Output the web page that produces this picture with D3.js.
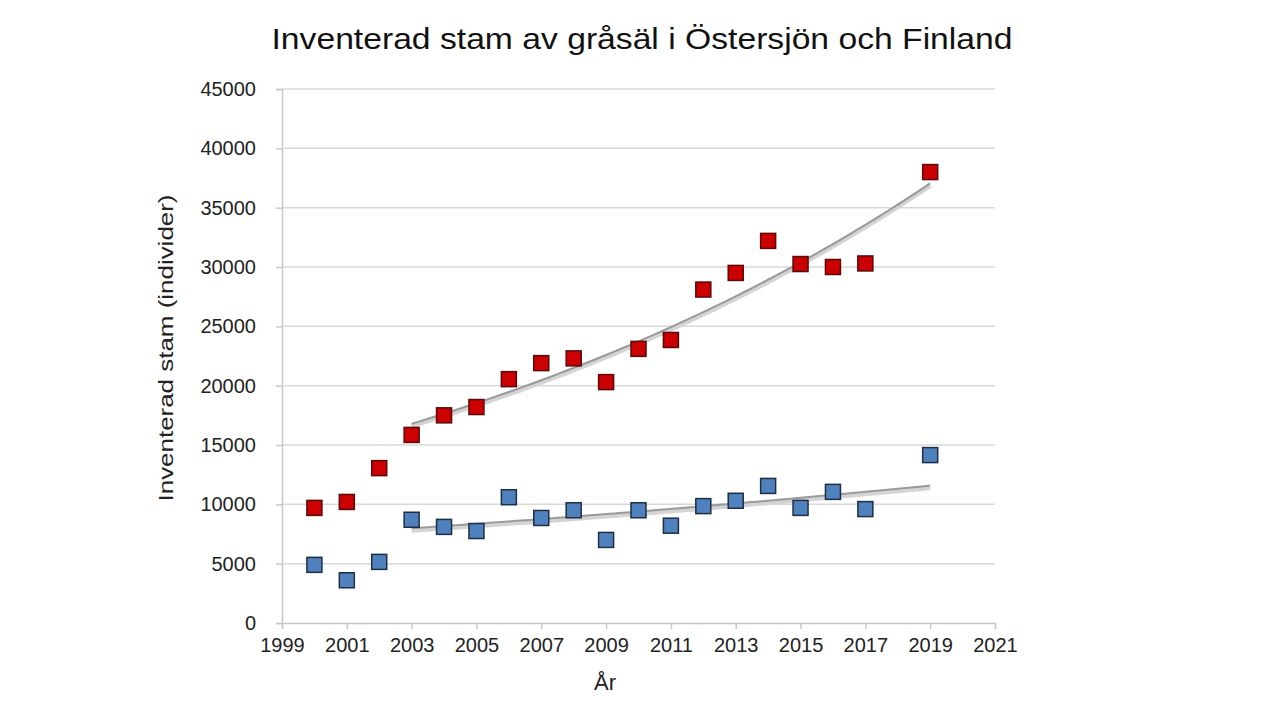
<!DOCTYPE html>
<html><head><meta charset="utf-8">
<script src="https://cdn.jsdelivr.net/npm/d3@7"></script>
<style>body{margin:0;background:#fff;}svg{display:block;font-family:"Liberation Sans",Arial,sans-serif;}</style>
</head><body>
<svg id="c" width="1280" height="720"></svg>
<script>
const years = [2000,2001,2002,2003,2004,2005,2006,2007,2008,2009,2010,2011,2012,2013,2014,2015,2016,2017,2019];
const totalValues = [9700,10200,13050,15850,17500,18200,20550,21900,22300,20300,23100,23850,28100,29500,32200,30250,30000,30300,38000];
const finlandValues = [4900,3600,5150,8700,8100,7750,10600,8850,9500,7000,9500,8200,9850,10300,11550,9700,11050,9600,14150];
const xTicks = [1999,2001,2003,2005,2007,2009,2011,2013,2015,2017,2019,2021];
const yTicks = [0,5000,10000,15000,20000,25000,30000,35000,40000,45000];
const trendStart = 2003;
const title = "Inventerad stam av gråsäl i Östersjön och Finland";
const yLabel = "Inventerad stam (individer)";
const xLabel = "År";

const svg = d3.select("#c");
const L=282, R=995, T=89, B=623;
const x = d3.scaleLinear().domain([1999,2021]).range([L,R]);
const y = d3.scaleLinear().domain([0,45000]).range([B,T]);

svg.append("text").attr("x",642).attr("y",49).attr("text-anchor","middle")
  .attr("font-size",30).attr("fill","#111")
  .attr("textLength",741).attr("lengthAdjust","spacingAndGlyphs").text(title);

// grid
svg.append("g").selectAll("line").data(yTicks.filter(d=>d>0)).join("line")
  .attr("x1",L).attr("x2",R).attr("y1",d=>y(d)).attr("y2",d=>y(d))
  .attr("stroke","#d9d9d9").attr("stroke-width",1.5);

// axes
const ya = svg.append("g").attr("transform",`translate(${L},0)`)
  .call(d3.axisLeft(y).tickValues(yTicks).tickSize(6).tickPadding(20).tickFormat(d3.format("d")));
const xa = svg.append("g").attr("transform",`translate(0,${B})`)
  .call(d3.axisBottom(x).tickValues(xTicks).tickSize(6).tickPadding(3).tickFormat(d3.format("d")));
[ya,xa].forEach(g=>{
  g.select(".domain").attr("stroke","#c8c8c8").attr("stroke-width",1.5);
  g.selectAll(".tick line").attr("stroke","#c8c8c8").attr("stroke-width",1.5);
  g.selectAll("text").attr("font-size",20).attr("fill","#222").attr("font-family","Liberation Sans, Arial, sans-serif");
});
xa.selectAll("text").attr("dy","1em");

svg.append("text").attr("transform",`translate(173,348) rotate(-90)`)
  .attr("text-anchor","middle").attr("font-size",21).attr("fill","#222")
  .attr("textLength",307).attr("lengthAdjust","spacingAndGlyphs").text(yLabel);
svg.append("text").attr("x",605).attr("y",690).attr("text-anchor","middle")
  .attr("font-size",22).attr("fill","#222").text(xLabel);

// exponential trend fit
function expFit(vals){
  const pts = years.map((yr,i)=>[yr,vals[i]]).filter(p=>p[0]>=trendStart);
  const mx=d3.mean(pts,p=>p[0]), my=d3.mean(pts,p=>Math.log(p[1]));
  const b=d3.sum(pts,p=>(p[0]-mx)*(Math.log(p[1])-my))/d3.sum(pts,p=>(p[0]-mx)**2);
  const a=my-b*mx;
  return d3.range(trendStart,years[years.length-1]+0.01,0.25).map(t=>[t,Math.exp(a+b*t)]);
}
const line = d3.line().x(d=>x(d[0])).y(d=>y(d[1])).curve(d3.curveMonotoneX);
[totalValues, finlandValues].forEach(vals=>{
  const tr = expFit(vals);
  svg.append("path").attr("d",line(tr)).attr("fill","none").attr("stroke","#d4d4d4").attr("stroke-width",5).attr("transform","translate(0,2)");
  svg.append("path").attr("d",line(tr)).attr("fill","none").attr("stroke","#9a9a9a").attr("stroke-width",2);
});

const s=15;
function markers(vals, fill, stroke){
  svg.append("g").selectAll("rect").data(years.map((yr,i)=>[yr,vals[i]])).join("rect")
    .attr("x",d=>x(d[0])-s/2).attr("y",d=>y(d[1])-s/2).attr("width",s).attr("height",s)
    .attr("fill",fill).attr("stroke",stroke).attr("stroke-width",1.5);
}
markers(totalValues,"#cc0000","#5a0a0a");
markers(finlandValues,"#4f81bd","#1e2f45");
</script>
</body></html>
